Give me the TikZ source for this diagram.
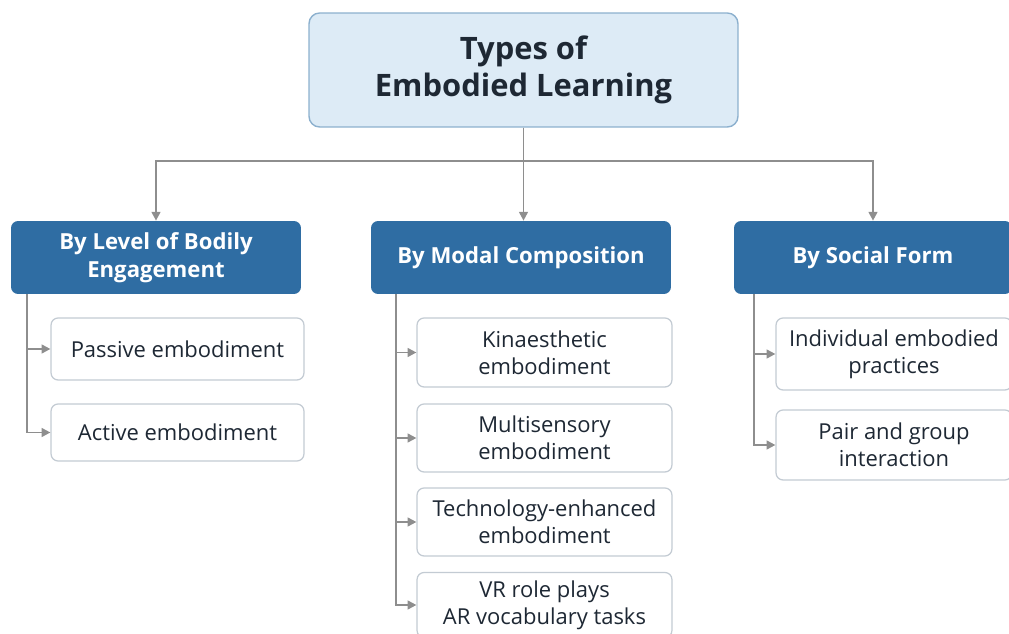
\documentclass[tikz,border=0pt]{standalone}
\usepackage{fontspec}
\setmainfont{Open Sans}
\usetikzlibrary{positioning, arrows.meta}

\definecolor{titlefill}{HTML}{DDEBF6}
\definecolor{titleline}{HTML}{8CB0CE}
\definecolor{catblue}{HTML}{2F6DA3}
\definecolor{itemline}{HTML}{C3CBD3}
\definecolor{conngray}{HTML}{8E8E8E}
\definecolor{darktext}{HTML}{1E2834}

\begin{document}
\begin{tikzpicture}[x=0.02cm, y=-0.02cm,
  title/.style={rectangle, rounded corners=6pt, draw=titleline, fill=titlefill, line width=0.8pt,
    minimum width=8.58cm, minimum height=2.28cm, align=center, text=darktext,
    font=\fontsize{17.6}{21.5}\selectfont\bfseries},
  cat/.style={rectangle, rounded corners=4pt, fill=catblue, text=white, align=center,
    minimum height=1.46cm, font=\fontsize{12.6}{16}\selectfont\bfseries},
  item/.style={rectangle, rounded corners=4pt, draw=itemline, fill=white, line width=0.7pt,
    align=center, text=darktext, font=\fontsize{12.5}{15.3}\selectfont},
  conn/.style={draw=conngray, line width=1.1pt, -{Triangle[width=5pt,length=5pt]}}]
\useasboundingbox (0,0) rectangle (1009,634);

% root
\node[title] (root) at (523.5,70) {Types of\\Embodied Learning};

% categories
\node[cat, minimum width=5.8cm] (level) at (156,257.5) {By Level of Bodily\\Engagement};
\node[cat, minimum width=6.0cm] (modal) at (521,257.5) {By Modal Composition};
\node[cat, minimum width=5.56cm] (social) at (873,257.5) {By Social Form};

% by level
\node[item, minimum width=5.06cm, minimum height=1.24cm] (passive) at (177.5,349) {Passive embodiment};
\node[item, minimum width=5.06cm, minimum height=1.14cm] (active) at (177.5,432.5) {Active embodiment};

% by modal composition
\node[item, minimum width=5.1cm, minimum height=1.38cm] (kin) at (544.5,352.5) {Kinaesthetic\\embodiment};
\node[item, minimum width=5.1cm, minimum height=1.36cm] (multi) at (544.5,438) {Multisensory\\embodiment};
\node[item, minimum width=5.1cm, minimum height=1.36cm] (tech) at (544.5,522) {Technology-enhanced\\embodiment};
\node[item, minimum width=5.1cm, minimum height=1.3cm] (vr) at (544.5,605) {VR role plays\\AR vocabulary tasks};

% by social form
\node[item, minimum width=4.72cm, minimum height=1.44cm] (indiv) at (894,354) {Individual embodied\\practices};
\node[item, minimum width=4.72cm, minimum height=1.4cm] (pair) at (894,445) {Pair and group\\interaction};

% root to categories
\draw[conn] (root.south) -- ++(0,33) -| (level.north);
\draw[conn] (root.south) -- (root.south |- modal.north);
\draw[conn] (root.south) -- ++(0,33) -| (social.north);

% categories to items
\draw[conn] (level.south west) ++(16,0) |- (passive.west);
\draw[conn] (level.south west) ++(16,0) |- (active.west);
\draw[conn] (modal.south west) ++(25,0) |- (kin.west);
\draw[conn] (modal.south west) ++(25,0) |- (multi.west);
\draw[conn] (modal.south west) ++(25,0) |- (tech.west);
\draw[conn] (modal.south west) ++(25,0) |- (vr.west);
\draw[conn] (social.south west) ++(20,0) |- (indiv.west);
\draw[conn] (social.south west) ++(20,0) |- (pair.west);
\end{tikzpicture}
\end{document}
